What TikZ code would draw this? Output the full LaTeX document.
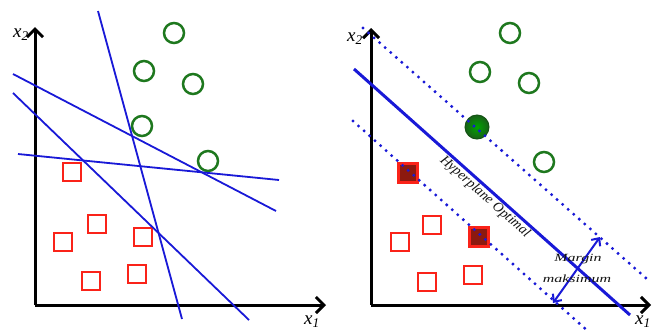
\documentclass[tikz,border=0pt]{standalone}
\usepackage{fontspec}
\setmainfont{Liberation Serif}
\usetikzlibrary{arrows.meta}
\definecolor{lblue}{RGB}{25,25,215}
\definecolor{dgreen}{RGB}{30,120,30}
\definecolor{sqred}{RGB}{250,35,25}
\definecolor{darkfill}{RGB}{140,25,15}
\definecolor{txtgray}{RGB}{20,20,20}
\begin{document}
\begin{tikzpicture}[x=1pt,y=-1pt,
  axis/.style={line width=3pt,-{Straight Barb[length=8pt,width=16pt]}},
  gcirc/.style={circle,draw=dgreen,line width=2.5pt,minimum size=20pt,inner sep=0pt},
  gfilled/.style={circle,draw=dgreen!70!black,line width=1pt,inner color=green!65!black,outer color=dgreen!80!black,minimum size=24pt,inner sep=0pt},
  rsq/.style={rectangle,draw=sqred,line width=2.5pt,minimum size=18pt,inner sep=0pt},
  rfilled/.style={rectangle,draw=sqred,line width=3pt,fill=darkfill,minimum size=19pt,inner sep=0pt},
  sepline/.style={lblue,line width=1.8pt},
  hyper/.style={lblue,line width=3pt},
  dotline/.style={lblue,line width=3.3pt,line cap=round,dash pattern=on 0pt off 7.4pt},
  marg/.style={lblue,line width=2pt,{Straight Barb[length=6pt,width=11pt]}-{Straight Barb[length=6pt,width=11pt]}},
  axlabel/.style={font=\itshape\fontsize{19}{19}\selectfont,inner sep=0pt},
  smalltxt/.style={txtgray,font=\itshape\fontsize{11}{11}\selectfont,inner sep=0pt,xscale=1.45}
]
\useasboundingbox (0,0) rectangle (652,333);
\fill[white] (0,0) rectangle (652,333);

% ---------- left panel ----------
\coordinate (LO) at (35,305);
\coordinate (LY) at (35,27);
\coordinate (LX) at (326,305);
\draw[axis] (LO) -- (LY);
\draw[axis] (LO) -- (LX);
\node[axlabel] (lx2) at (21,35) {x\textsubscript{2}};
\node[axlabel] (lx1) at (312,322) {x\textsubscript{1}};

\node[gcirc] (lc1) at (174,33) {};
\node[gcirc] (lc2) at (144,71) {};
\node[gcirc] (lc3) at (193,84) {};
\node[gcirc] (lc4) at (142,126) {};
\node[gcirc] (lc5) at (208,161) {};

\node[rsq] (ls1) at (72,172) {};
\node[rsq] (ls2) at (97,224) {};
\node[rsq] (ls3) at (63,242) {};
\node[rsq] (ls4) at (143,237) {};
\node[rsq] (ls5) at (91,281) {};
\node[rsq] (ls6) at (137,274) {};

\coordinate (a1) at (98,11);  \coordinate (a2) at (182,319);
\coordinate (b1) at (13,74);  \coordinate (b2) at (276,211);
\coordinate (c1) at (13,93);  \coordinate (c2) at (249,320);
\coordinate (d1) at (18,154); \coordinate (d2) at (279,180);
\draw[sepline] (a1) -- (a2);
\draw[sepline] (b1) -- (b2);
\draw[sepline] (c1) -- (c2);
\draw[sepline] (d1) -- (d2);

% ---------- right panel ----------
\coordinate (RO) at (371,305);
\coordinate (RY) at (371,28);
\coordinate (RX) at (651,305);
\draw[axis] (RO) -- (RY);
\draw[axis] (RO) -- (RX);
\node[axlabel] (rx2) at (355,39) {x\textsubscript{2}};
\node[axlabel,anchor=west] (rx1) at (635,322) {x\textsubscript{1}};

\node[gcirc] (rc1) at (510,33) {};
\node[gcirc] (rc2) at (480,72) {};
\node[gcirc] (rc3) at (529,83) {};
\node[gcirc] (rc5) at (544,162) {};
\node[gfilled] (rc4) at (477,127) {};

\node[rsq] (rs2) at (432,225) {};
\node[rsq] (rs3) at (400,242) {};
\node[rsq] (rs5) at (427,282) {};
\node[rsq] (rs6) at (473,275) {};
\node[rfilled] (rs1) at (408,173) {};
\node[rfilled] (rs4) at (479,237) {};

\coordinate (h1) at (354,69);  \coordinate (h2) at (630,315);
\coordinate (u1) at (363,28);  \coordinate (u2) at (647,279);
\coordinate (w1) at (353,121); \coordinate (w2) at (590,333);
\draw[dotline] (u1) -- (u2);
\draw[dotline] (w1) -- (w2);
\draw[hyper] (h1) -- (h2);

\node[txtgray,rotate=-41.7,font=\itshape\fontsize{14}{14}\selectfont,inner sep=0pt] (hyp) at (485,197) {Hyperplane Optimal};

\coordinate (m1) at (553,303);
\coordinate (m2) at (600,237);
\draw[marg] (m1) -- (m2);
\node[smalltxt] (mg1) at (578,259) {Margin};
\node[smalltxt] (mg2) at (577,279) {maksimum};
\end{tikzpicture}
\end{document}
